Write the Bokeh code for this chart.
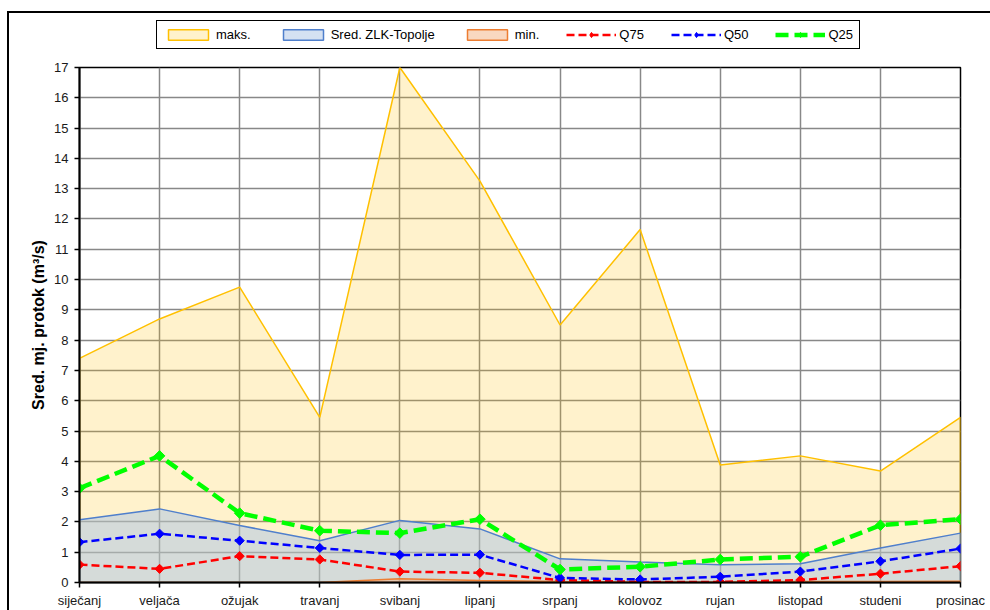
import numpy as np
from bokeh.plotting import figure
from bokeh.layouts import column
from bokeh.models import Range1d, FixedTicker, Legend, LegendItem
from bokeh.embed import file_html
from bokeh.resources import INLINE

months = ["siječanj", "veljača", "ožujak", "travanj", "svibanj", "lipanj",
          "srpanj", "kolovoz", "rujan", "listopad", "studeni", "prosinac"]
maks = [7.4, 8.7, 9.75, 5.45, 17.0, 13.25, 8.5, 11.65, 3.88, 4.18, 3.68, 5.45]
sred = [2.07, 2.43, 1.88, 1.38, 2.05, 1.77, 0.78, 0.68, 0.59, 0.62, 1.14, 1.63]
minv = [0.0, 0.0, 0.0, 0.0, 0.12, 0.07, 0.03, 0.02, 0.02, 0.03, 0.03, 0.04]
q75 = [0.59, 0.45, 0.87, 0.76, 0.36, 0.32, 0.08, 0.02, 0.02, 0.08, 0.29, 0.54]
q50 = [1.33, 1.61, 1.38, 1.14, 0.91, 0.92, 0.15, 0.10, 0.19, 0.36, 0.70, 1.12]
q25 = [3.11, 4.18, 2.29, 1.71, 1.63, 2.09, 0.43, 0.52, 0.76, 0.85, 1.89, 2.09]
yticks = list(range(0, 18))

FONT = "Liberation Sans"

STY = dict(
    maks=dict(fill_color="#FFC000", fill_alpha=0.2, line_color="#FFC000", line_width=1.5),
    sred=dict(fill_color="#ABC4E6", fill_alpha=0.5, line_color="#4F7FCC", line_width=1.5),
    minv=dict(fill_color="#F4B183", fill_alpha=0.5, line_color="#ED7D31", line_width=1.5),
)
LINES = dict(
    q75=(dict(line_color="#FF0000", line_width=2.5, line_dash="8 4"), "#FF0000", 6.5),
    q50=(dict(line_color="#0000FF", line_width=2.5, line_dash="8 4"), "#0000FF", 6.5),
    q25=(dict(line_color="#00FF00", line_width=4.5, line_dash="13 6"), "#00FF00", 7.5),
)

xi = list(range(len(months)))
px = xi + [xi[-1], xi[0]]


def draw(fig, legend_markers=False):
    r = {}
    r["maks"] = fig.patch(px, maks + [0, 0], **STY["maks"])
    r["sred"] = fig.patch(px, sred + [0, 0], **STY["sred"])
    r["minv"] = fig.patch(px, minv + [0, 0], **STY["minv"])
    for key, data in (("q75", q75), ("q50", q50), ("q25", q25)):
        ls, col, sz = LINES[key]
        ln = fig.line(xi, data, **ls)
        if legend_markers:
            mk = fig.scatter(xi, data, marker="diamond", size=sz * 1.45,
                             fill_color=col, line_color=col)
        else:
            mk = fig.scatter(xi, data, marker="square", angle=np.pi / 4, size=sz,
                             fill_color=col, line_color=col)
        r[key] = [ln, mk]
    return r


# ---------- main chart ----------
p = figure(width=981, height=552, sizing_mode="fixed", output_backend="svg", toolbar_location=None,
           x_range=Range1d(0, 11), y_range=Range1d(0, 17),
           min_border_left=70, min_border_right=30, min_border_top=9, min_border_bottom=27,
           background_fill_color="white", border_fill_color="white")
draw(p)

p.xaxis.ticker = FixedTicker(ticks=xi)
p.xaxis.major_label_overrides = {i: m for i, m in enumerate(months)}
p.yaxis.ticker = FixedTicker(ticks=yticks)
for ax in (p.xaxis, p.yaxis):
    ax.axis_line_color = "black"
    ax.axis_line_width = 2
    ax.major_tick_line_color = "black"
    ax.major_tick_line_width = 1.5
    ax.major_tick_out = 5
    ax.major_tick_in = 0
    ax.minor_tick_line_color = None
    ax.major_label_text_font = FONT
    ax.major_label_text_font_size = "13px"
    ax.major_label_text_color = "#1a1a1a"
p.xaxis.major_label_standoff = 5
p.yaxis.major_label_standoff = 6
p.yaxis.axis_label = "Sred. mj. protok (m³/s)"
p.yaxis.axis_label_text_font = FONT
p.yaxis.axis_label_text_font_size = "16px"
p.yaxis.axis_label_text_font_style = "bold"
p.yaxis.axis_label_text_color = "black"
p.yaxis.axis_label_standoff = 4

p.xgrid.grid_line_color = "#888888"
p.xgrid.grid_line_width = 1.5
p.ygrid.grid_line_color = "#888888"
p.ygrid.grid_line_width = 1.5

p.outline_line_color = "black"
p.outline_line_width = 1.5
p.outline_line_alpha = 1

# ---------- legend strip (same series drawn off-range, only legend shows) ----------
lg = figure(width=981, height=45, sizing_mode="fixed", output_backend="svg", toolbar_location=None,
            x_range=Range1d(0, 11), y_range=Range1d(100, 101),
            x_axis_type=None, y_axis_type=None,
            min_border_left=0, min_border_right=0, min_border_top=0, min_border_bottom=0,
            background_fill_color="white", border_fill_color="white", outline_line_color=None)
lg.xgrid.visible = False
lg.ygrid.visible = False
rl = draw(lg, legend_markers=True)

legend = Legend(items=[
    LegendItem(label="maks.", renderers=[rl["maks"]]),
    LegendItem(label="Sred. ZLK-Topolje", renderers=[rl["sred"]]),
    LegendItem(label="min.", renderers=[rl["minv"]]),
    LegendItem(label="Q75", renderers=rl["q75"]),
    LegendItem(label="Q50", renderers=rl["q50"]),
    LegendItem(label="Q25", renderers=rl["q25"]),
], orientation="horizontal", location=(77, 9),
    border_line_color="black", border_line_width=1.5, border_line_alpha=1,
    background_fill_color="white", background_fill_alpha=1,
    label_text_font=FONT, label_text_font_size="13px", label_text_color="black",
    glyph_width=50, glyph_height=13, label_standoff=3, spacing=27, padding=6,
    label_height=15, margin=0)
lg.add_layout(legend, "center")

layout = column(lg, p, spacing=0,
                styles={"border-left": "2px solid black", "border-top": "2px solid black",
                        "margin-left": "7px", "margin-top": "11px"})

open("out.html", "w").write(file_html(layout, INLINE))
